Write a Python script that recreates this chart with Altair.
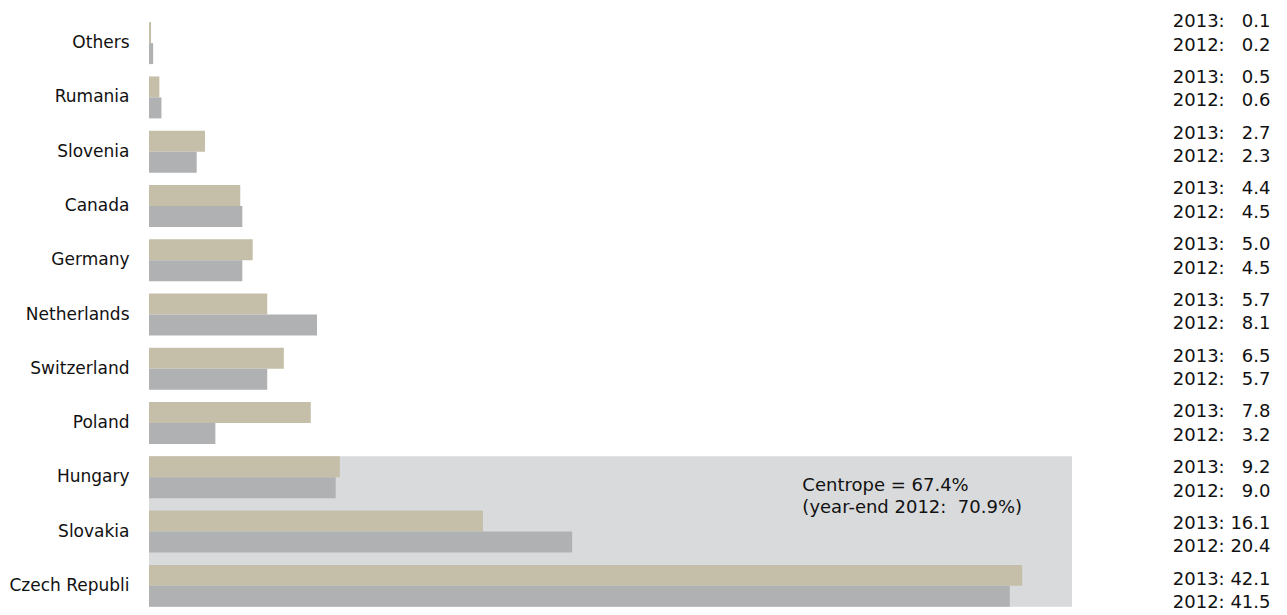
import json
import altair as alt
import pandas as pd

countries = ["Others", "Rumania", "Slovenia", "Canada", "Germany", "Netherlands",
             "Switzerland", "Poland", "Hungary", "Slovakia", "Czech Republi"]
v2013 = [0.1, 0.5, 2.7, 4.4, 5.0, 5.7, 6.5, 7.8, 9.2, 16.1, 42.1]
v2012 = [0.2, 0.6, 2.3, 4.5, 4.5, 8.1, 5.7, 3.2, 9.0, 20.4, 41.5]
years = ["2013", "2012"]
centrope = ["Hungary", "Czech Republi"]          # first and last country of the shaded group
x_max = 44.5                                       # end of the Centrope shading (data units)
annot_lines = ["Centrope = 67.4%", "(year-end 2012:\u00a0 70.9%)"]
annot_x = 31.5

FONT = "DejaVu Sans"
TAN = "#C5BFAA"
GRAY = "#B0B1B3"
SHADE = "#D9DADC"

rows = []
for c, a, b in zip(countries, v2013, v2012):
    rows.append({"country": c, "year": "2013", "value": a})
    rows.append({"country": c, "year": "2012", "value": b})
bars_df = pd.DataFrame(rows)

def fmt(v):
    s = f"{v:4.1f}"
    return s.replace(" ", "\u2007")

labels = [[f"2013: {fmt(a)}", f"2012: {fmt(b)}"] for a, b in zip(v2013, v2012)]
label_expr = f"{json.dumps(labels, ensure_ascii=False)}[indexof({json.dumps(countries)}, datum.value)]"

W, H = 923, 597
yscale = alt.Scale(domain=countries, paddingInner=0.227, paddingOuter=0.1135)
xscale = alt.Scale(domain=[0, x_max], nice=False, zero=True)
left_axis = alt.Axis(title=None, ticks=False, domain=False, labelFont=FONT,
                     labelFontSize=17, labelColor="#111111", labelPadding=20)

shade = alt.Chart(pd.DataFrame([{"start": centrope[0], "end": centrope[1], "x0": 0, "x1": x_max}])).mark_rect(
    color=SHADE
).encode(
    y=alt.Y("start:N", bandPosition=0, scale=yscale, axis=left_axis),
    y2=alt.Y2("end", bandPosition=1),
    x=alt.X("x0:Q", scale=xscale, axis=None),
    x2="x1:Q",
)

bars = alt.Chart(bars_df).mark_bar().encode(
    y=alt.Y("country:N", scale=yscale, sort=countries, axis=left_axis),
    yOffset=alt.YOffset("year:N", sort=years, scale=alt.Scale(paddingInner=0, paddingOuter=0)),
    x=alt.X("value:Q", scale=xscale, axis=None),
    color=alt.Color("year:N", scale=alt.Scale(domain=years, range=[TAN, GRAY]), legend=None),
)

annot = alt.Chart(pd.DataFrame([{"country": centrope[0], "x": annot_x, "text": annot_lines}])).mark_text(
    align="left", baseline="top", font=FONT, fontSize=18, lineHeight=22, color="#111111"
).encode(
    y=alt.Y("country:N", scale=yscale, axis=left_axis),
    x=alt.X("x:Q", scale=xscale, axis=None),
    text="text",
)

right = alt.Chart(pd.DataFrame({"country": countries})).mark_point(opacity=0).encode(
    y=alt.Y("country:N",
            scale=alt.Scale(type="point", domain=countries, range=[5.5, 563], padding=0),
            axis=alt.Axis(orient="right", title=None, ticks=False, domain=False, labelFont=FONT,
                          labelFontSize=18, labelLineHeight=23.5, labelColor="#111111",
                          labelAlign="right", labelPadding=198, labelExpr=label_expr)),
)

main = alt.layer(shade, bars, annot)
chart = alt.layer(main, right).resolve_scale(y="independent").properties(
    width=W, height=H,
    padding={"top": 12, "left": 8, "right": 5, "bottom": 0},
).configure_view(stroke=None)

chart.save("out.html", embed_options={"renderer": "svg", "actions": False})
